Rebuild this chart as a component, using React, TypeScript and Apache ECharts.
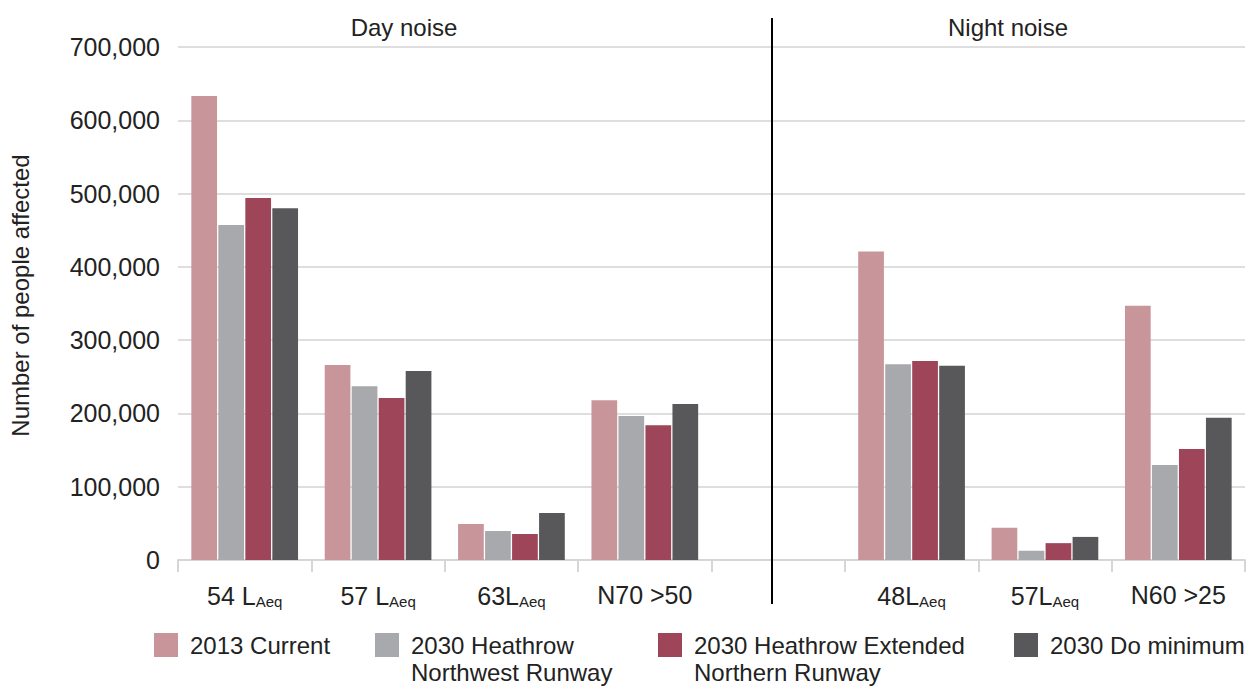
import React, { useEffect, useRef } from "react";
import * as echarts from "echarts";

const categories = ["54 L|Aeq", "57 L|Aeq", "63L|Aeq", "N70 >50", "", "48L|Aeq", "57L|Aeq", "N60 >25"];
const seriesNames = ["2013 Current", "2030 Heathrow\nNorthwest Runway", "2030 Heathrow Extended\nNorthern Runway", "2030 Do minimum"];
const current2013 = [633000, 266000, 49000, 218000, null, 421000, 44000, 347000];
const northwest2030 = [457000, 237000, 39500, 196500, null, 267000, 12500, 129500];
const extended2030 = [494000, 221000, 35500, 184000, null, 271500, 23000, 151500];
const doMinimum2030 = [480000, 258000, 64000, 213000, null, 265000, 31500, 194000];
const colors = ["#c8959a", "#a8a9ac", "#9e4559", "#58585a"];
const sectionTitles = ["Day noise", "Night noise"];

const FONT = "'Liberation Sans', Arial, sans-serif";
const TXT = "#222222";

export default function App() {
  const ref = useRef<HTMLDivElement>(null);
  useEffect(() => {
    if (!ref.current) return;
    const chart = echarts.init(ref.current, null, { renderer: "svg" });
    const allData = [current2013, northwest2030, extended2030, doMinimum2030];
    const legendLefts = [154, 375, 658, 1014];
    const LH = 27;
    const iconCenter = 645;
    const option: any = {
      animation: false,
      textStyle: { fontFamily: FONT },
      grid: { left: 178, right: 5, top: 47, bottom: 126, outerBoundsMode: "none", containLabel: false },
      xAxis: {
        type: "category",
        data: categories,
        axisLine: { lineStyle: { color: "#d6d6d6", width: 2 } },
        axisTick: { show: true, length: 12, lineStyle: { color: "#d6d6d6", width: 2 } },
        axisLabel: {
          margin: 22,
          interval: 0,
          formatter: (v: string) => {
            if (!v) return "";
            const parts = v.split("|");
            let s = `{m|${parts[0]}}`;
            if (parts[1]) s += `{s|${parts[1]}}`;
            return s;
          },
          rich: {
            m: { fontSize: 25, color: TXT, fontFamily: FONT },
            s: { fontSize: 15, color: TXT, fontFamily: FONT, padding: [12, 0, 0, 0] },
          },
        },
      },
      yAxis: {
        type: "value",
        min: 0,
        max: 700000,
        interval: 100000,
        name: "Number of people affected",
        nameLocation: "middle",
        nameGap: 146,
        nameTextStyle: { fontSize: 24, color: TXT, fontFamily: FONT, padding: [0, 0, 0, 16] },
        axisLine: { show: false },
        axisTick: { show: false },
        axisLabel: {
          fontSize: 25,
          color: TXT,
          margin: 18,
          formatter: (v: number) => v.toLocaleString("en-US"),
        },
        splitLine: { lineStyle: { color: "#dedede", width: 2 } },
      },
      legend: seriesNames.map((n, i) => {
        const two = n.includes("\n");
        return {
          data: [n],
          left: legendLefts[i],
          top: two ? iconCenter - 1.5 * LH : iconCenter - LH / 2,
          padding: 0,
          itemWidth: 24,
          itemHeight: 24,
          icon: "rect",
          selectedMode: false,
          formatter: (name: string) => (two ? "\n" + name : name),
          textStyle: {
            fontSize: 24,
            color: TXT,
            fontFamily: FONT,
            lineHeight: LH,
            padding: [0, 0, 0, 7],
          },
        };
      }),
      series: seriesNames.map((n, i) => ({
        type: "bar",
        name: n,
        data: allData[i],
        itemStyle: { color: colors[i] },
        barCategoryGap: "20%",
        barGap: "5%",
      })),
      graphic: [
        {
          type: "line",
          shape: { x1: 772, y1: 18, x2: 772, y2: 604 },
          style: { stroke: "#000", lineWidth: 2 },
          z: 10,
        },
        {
          type: "text",
          x: 404,
          y: 27,
          style: { text: sectionTitles[0], fontSize: 24, fill: TXT, fontFamily: FONT, align: "center", verticalAlign: "middle" },
        },
        {
          type: "text",
          x: 1008,
          y: 27,
          style: { text: sectionTitles[1], fontSize: 24, fill: TXT, fontFamily: FONT, align: "center", verticalAlign: "middle" },
        },
      ],
    };
    chart.setOption(option);
    return () => chart.dispose();
  }, []);
  return <div ref={ref} style={{ width: 1250, height: 686, position: "absolute", left: 0, top: 0 }} />;
}
